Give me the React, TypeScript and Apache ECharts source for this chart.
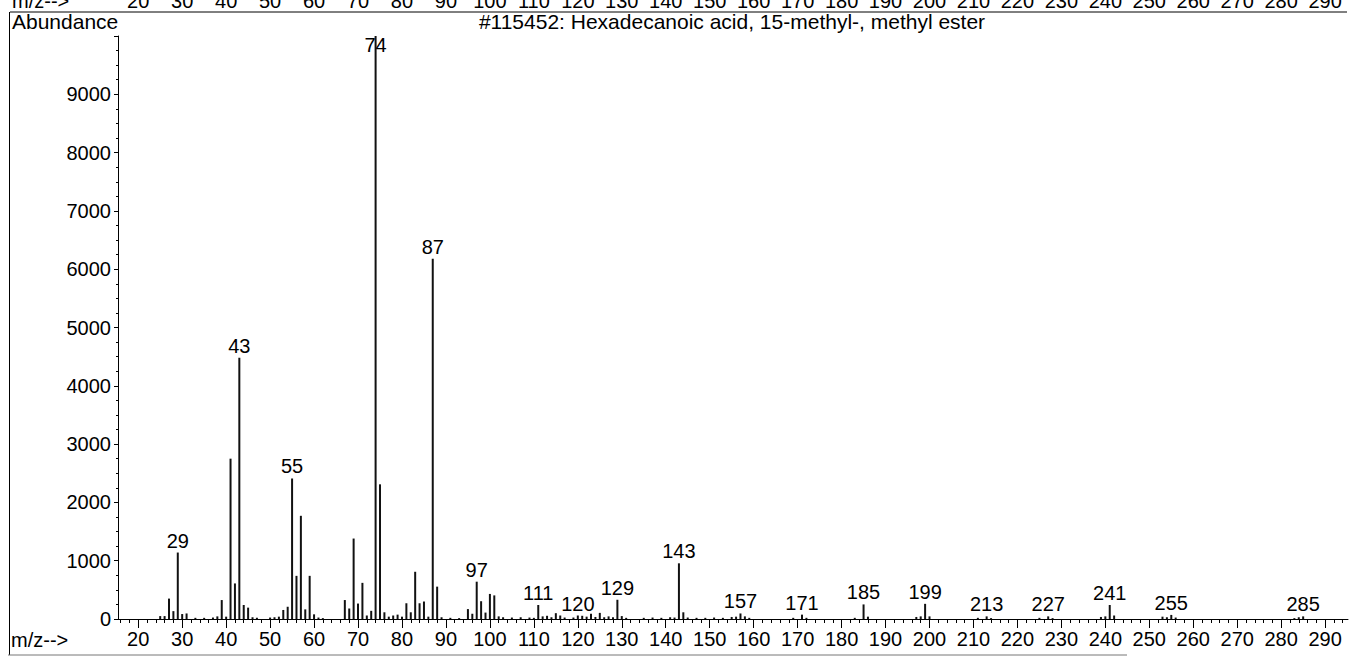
import React, { useEffect, useRef } from "react";
import * as echarts from "echarts";

// m/z values of the peaks
const MZ = [
  25, 26, 27, 28, 29, 30, 31, 33, 35, 37, 38, 39, 40, 41, 42, 43, 44, 45, 46, 47,
  50, 51, 52, 53, 54, 55, 56, 57, 58, 59, 60, 61, 62,
  67, 68, 69, 70, 71, 72, 73, 74, 75, 76, 77, 78, 79, 80, 81, 82, 83, 84, 85, 86, 87, 88, 89, 91, 93,
  95, 96, 97, 98, 99, 100, 101, 102, 103, 105, 107, 109, 110, 111, 112, 113, 114, 115, 116, 117, 119,
  120, 121, 122, 123, 124, 125, 126, 127, 128, 129, 130, 131, 135, 137, 139, 141, 142, 143, 144, 145,
  147, 149, 151, 153, 155, 156, 157, 158, 159, 169, 171, 172, 183, 185, 186, 197, 198, 199, 200,
  211, 213, 214, 225, 227, 228, 239, 240, 241, 242, 253, 254, 255, 256, 283, 284, 285,
];
// abundance for each m/z above
const ABUNDANCE = [
  50, 50, 350, 135, 1140, 85, 95, 20, 20, 25, 45, 325, 40, 2750, 610, 4480, 240, 195, 30, 20,
  25, 30, 40, 155, 210, 2410, 740, 1770, 165, 740, 80, 25, 15,
  325, 180, 1380, 265, 620, 60, 140, 10000, 2310, 115, 40, 60, 75, 40, 270, 115, 810, 270, 300, 40, 6180, 555, 30, 20, 15,
  170, 90, 640, 305, 110, 430, 405, 45, 30, 25, 30, 25, 20, 240, 45, 55, 30, 100, 60, 25, 25,
  60, 55, 40, 90, 35, 105, 30, 45, 30, 330, 50, 20, 20, 25, 20, 30, 25, 955, 115, 25,
  20, 20, 25, 20, 35, 40, 95, 45, 20, 20, 75, 20, 20, 250, 40, 35, 45, 260, 45,
  20, 45, 15, 20, 45, 15, 35, 45, 240, 60, 40, 30, 70, 25, 15, 30, 45,
];
// peaks that carry an m/z label
const LABELED_MZ = [29, 43, 55, 74, 87, 97, 111, 120, 129, 143, 157, 171, 185, 199, 213, 227, 241, 255, 285];
// x-axis tick labels
const X_LABELS = [20, 30, 40, 50, 60, 70, 80, 90, 100, 110, 120, 130, 140, 150, 160, 170, 180, 190, 200, 210, 220, 230, 240, 250, 260, 270, 280, 290];
// y-axis tick labels
const Y_LABELS = [0, 1000, 2000, 3000, 4000, 5000, 6000, 7000, 8000, 9000];

const TITLE = "#115452: Hexadecanoic acid, 15-methyl-, methyl ester";
const FONT = "'Liberation Sans', Arial, Helvetica, sans-serif";

const X_MIN = 15.4;
const X_MAX = 295.2;

export default function App() {
  const ref = useRef<HTMLDivElement | null>(null);

  useEffect(() => {
    if (!ref.current) return;
    const chart = echarts.init(ref.current, undefined, { renderer: "svg" });

    const minorTicks: number[] = [];
    for (let v = 16; v <= 294; v += 2) minorTicks.push(v);

    const data = MZ.map((m, i) => {
      const item: any = { value: [m, ABUNDANCE[i]] };
      if (LABELED_MZ.includes(m)) {
        item.label =
          m === 74
            ? { show: true, position: "insideTop", distance: -1 }
            : { show: true, position: "top", distance: 2 };
      }
      return item;
    });

    const grid = { left: 118, right: 5, top: 36, bottom: 39, outerBoundsMode: "none", containLabel: false };

    chart.setOption({
      animation: false,
      backgroundColor: "#fff",
      textStyle: { fontFamily: FONT },
      grid: [grid, { ...grid }],
      xAxis: [
        {
          type: "value",
          gridIndex: 0,
          position: "bottom",
          min: X_MIN,
          max: X_MAX,
          axisLine: { show: true, lineStyle: { color: "#000", width: 1 } },
          axisTick: { show: true, customValues: minorTicks, length: 4, lineStyle: { color: "#000" } },
          axisLabel: {
            show: true,
            customValues: X_LABELS,
            margin: 10,
            fontSize: 20,
            color: "#000",
            fontFamily: FONT,
          },
          splitLine: { show: false },
        },
        {
          type: "value",
          gridIndex: 0,
          position: "top",
          offset: 24,
          min: X_MIN,
          max: X_MAX,
          axisLine: { show: false },
          axisTick: { show: false },
          axisLabel: {
            show: true,
            customValues: X_LABELS,
            margin: 1,
            fontSize: 20,
            color: "#000",
            fontFamily: FONT,
          },
          splitLine: { show: false },
        },
        {
          type: "value",
          gridIndex: 1,
          position: "bottom",
          min: X_MIN,
          max: X_MAX,
          axisLine: { show: false },
          axisTick: { show: true, customValues: X_LABELS, length: 9, lineStyle: { color: "#000" } },
          axisLabel: { show: false },
          splitLine: { show: false },
        },
      ],
      yAxis: [
        {
          type: "value",
          gridIndex: 0,
          min: 0,
          max: 10000,
          interval: 1000,
          axisLine: { show: true, lineStyle: { color: "#000", width: 1 } },
          axisTick: { show: true, length: 4, lineStyle: { color: "#000" } },
          minorTick: { show: true, splitNumber: 4, length: 2, lineStyle: { color: "#000" } },
          axisLabel: {
            show: true,
            margin: 7,
            fontSize: 20,
            color: "#000",
            fontFamily: FONT,
            formatter: (v: number) => (Y_LABELS.includes(v) ? String(v) : ""),
          },
          splitLine: { show: false },
        },
        {
          type: "value",
          gridIndex: 1,
          min: 0,
          max: 10000,
          show: false,
        },
      ],
      series: [
        {
          type: "bar",
          xAxisIndex: 0,
          yAxisIndex: 0,
          barWidth: 2,
          itemStyle: { color: "#111" },
          label: {
            show: false,
            position: "top",
            distance: 2,
            fontSize: 20,
            color: "#000",
            fontFamily: FONT,
            formatter: (p: any) => String(p.value[0]),
          },
          data,
        },
      ],
      graphic: [
        { type: "line", shape: { x1: 10, y1: 12, x2: 1347, y2: 12 }, style: { stroke: "#000", lineWidth: 1 } },
        { type: "line", shape: { x1: 9.5, y1: 12, x2: 9.5, y2: 655 }, style: { stroke: "#000", lineWidth: 1 } },
        { type: "line", shape: { x1: 8, y1: 655, x2: 1127, y2: 655 }, style: { stroke: "#777", lineWidth: 1 } },
        {
          type: "text",
          x: 12,
          y: 21,
          style: { text: "Abundance", font: `21px ${FONT}`, fill: "#000", align: "left", verticalAlign: "middle" },
        },
        {
          type: "text",
          x: 732,
          y: 21,
          style: { text: TITLE, font: `21px ${FONT}`, fill: "#000", align: "center", verticalAlign: "middle" },
        },
        {
          type: "text",
          x: 11,
          y: 640,
          style: { text: "m/z-->", font: `20px ${FONT}`, fill: "#000", align: "left", verticalAlign: "middle" },
        },
        {
          type: "text",
          x: 12,
          y: 1,
          style: { text: "m/z-->", font: `20px ${FONT}`, fill: "#000", align: "left", verticalAlign: "middle" },
        },
      ],
    });

    return () => chart.dispose();
  }, []);

  return (
    <div
      ref={ref}
      style={{ position: "fixed", left: 0, top: 0, width: 1353, height: 658, background: "#fff" }}
    />
  );
}
